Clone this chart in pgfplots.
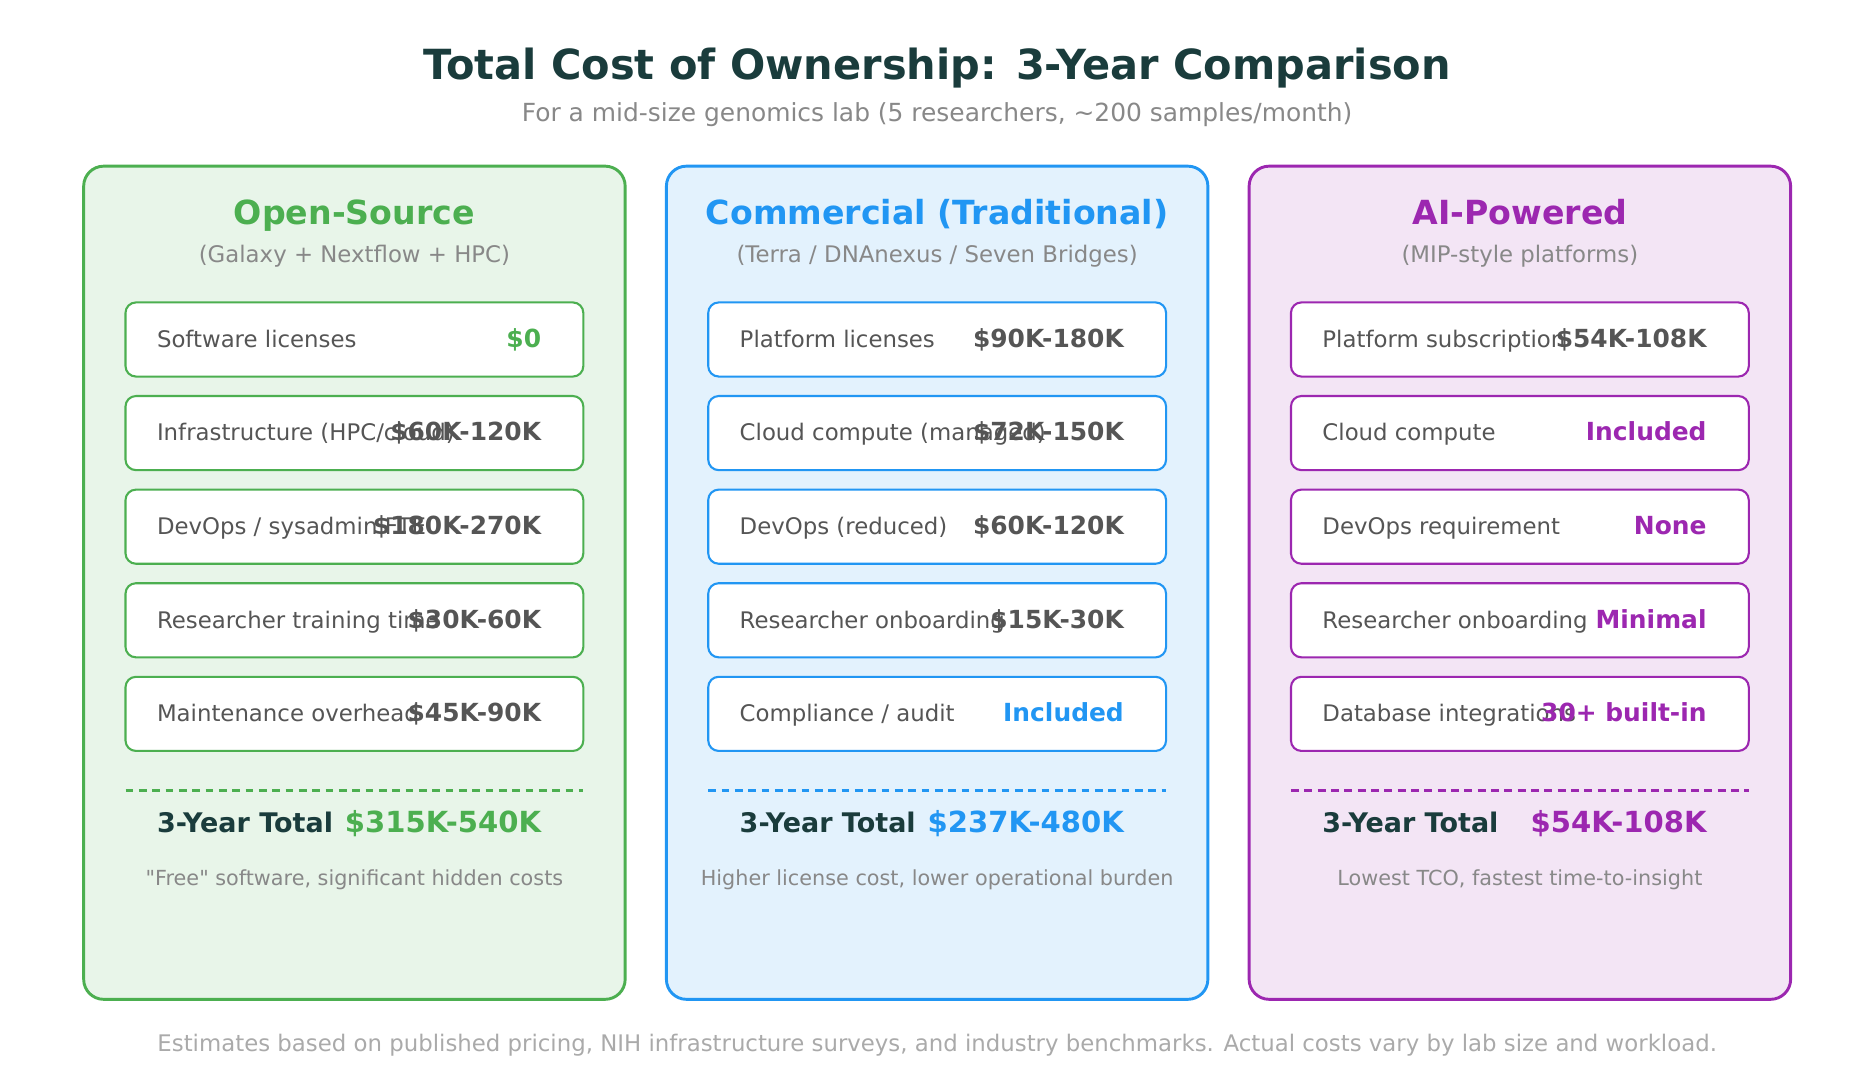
\documentclass[border=0pt]{standalone}
\usepackage{fontspec}
\setmainfont{DejaVu Sans}[Ligatures=TeXOff]
\usepackage{pgfplots}
\pgfplotsset{compat=1.18}

\definecolor{osgreen}{HTML}{4CAF50}
\definecolor{osfill}{HTML}{E8F5E9}
\definecolor{cmblue}{HTML}{2196F3}
\definecolor{cmfill}{HTML}{E3F2FD}
\definecolor{aipurple}{HTML}{9C27B0}
\definecolor{aifill}{HTML}{F3E5F5}
\definecolor{titlecol}{HTML}{1A3C3C}
\definecolor{labelgray}{HTML}{555555}
\definecolor{valgray}{HTML}{555555}
\definecolor{subgray}{HTML}{888888}
\definecolor{footgray}{HTML}{AAAAAA}

\newcommand\fs[1]{\fontsize{#1}{#1}\selectfont}

% card frame: #1 left x, #2 colour, #3 fill, #4 title, #5 subtitle
\newcommand\card[5]{%
  \draw[#2, fill=#3, line width=1.4bp, rounded corners=9.6bp]
    (axis cs:#1,139) rectangle (axis cs:#1+453,836);
  \node[anchor=base, text=#2, font=\fs{16}\bfseries] at (axis cs:#1+226.5,187.5) {#4};
  \node[anchor=base, text=subgray, font=\fs{11}] at (axis cs:#1+226.5,219.5) {#5};
  \draw[#2, line width=1.3bp, dash pattern=on 3.8bp off 2.6bp]
    (axis cs:#1+35,661.5) -- (axis cs:#1+418,661.5);
}
% cost row: #1 left x, #2 row, #3 colour, #4 label, #5 value, #6 value colour
\newcommand\costrow[6]{%
  \draw[#3, fill=white, line width=1bp, rounded corners=5bp]
    (axis cs:#1+35,253+78.3*#2) rectangle (axis cs:#1+418,315+78.3*#2);
  \node[anchor=base west, text=labelgray, font=\fs{11}] at (axis cs:#1+61,290.5+78.3*#2) {#4};
  \node[anchor=base east, text=#6, font=\fs{12}\bfseries] at (axis cs:#1+383,290.5+78.3*#2) {#5};
}
% total line: #1 left x, #2 colour, #3 total, #4 note
\newcommand\total[4]{%
  \node[anchor=base west, text=titlecol, font=\fs{13}\bfseries] at (axis cs:#1+61,696.5) {3-Year Total};
  \node[anchor=base east, text=#2, font=\fs{14}\bfseries] at (axis cs:#1+383,696.5) {#3};
  \node[anchor=base, text=subgray, font=\fs{10}] at (axis cs:#1+226.5,740.5) {#4};
}

\begin{document}
\begin{tikzpicture}
\tikzset{every node/.style={inner sep=0pt}}
\begin{axis}[
  width=900bp, height=519.84bp, scale only axis,
  xmin=0, xmax=1568.6, ymin=0, ymax=906, y dir=reverse,
  hide axis, clip=false]

\path (axis cs:0,0) rectangle (axis cs:1568.6,906);

\node[anchor=base, text=titlecol, font=\fs{20}\bfseries] at (axis cs:784,66.5)
  {Total Cost of Ownership: 3-Year Comparison};
\node[anchor=base, text=subgray, font=\fs{12}] at (axis cs:784,102)
  {For a mid-size genomics lab (5 researchers, \textasciitilde200 samples/month)};

% Open-Source
\card{70}{osgreen}{osfill}{Open-Source}{(Galaxy + Nextflow + HPC)}
\costrow{70}{0}{osgreen}{Software licenses}{\$0}{osgreen}
\costrow{70}{1}{osgreen}{Infrastructure (HPC/cloud)}{\$60K-120K}{valgray}
\costrow{70}{2}{osgreen}{DevOps / sysadmin FTE}{\$180K-270K}{valgray}
\costrow{70}{3}{osgreen}{Researcher training time}{\$30K-60K}{valgray}
\costrow{70}{4}{osgreen}{Maintenance overhead}{\$45K-90K}{valgray}
\total{70}{osgreen}{\$315K-540K}{"Free" software, significant hidden costs}

% Commercial
\card{557.5}{cmblue}{cmfill}{Commercial (Traditional)}{(Terra / DNAnexus / Seven Bridges)}
\costrow{557.5}{0}{cmblue}{Platform licenses}{\$90K-180K}{valgray}
\costrow{557.5}{1}{cmblue}{Cloud compute (managed)}{\$72K-150K}{valgray}
\costrow{557.5}{2}{cmblue}{DevOps (reduced)}{\$60K-120K}{valgray}
\costrow{557.5}{3}{cmblue}{Researcher onboarding}{\$15K-30K}{valgray}
\costrow{557.5}{4}{cmblue}{Compliance / audit}{Included}{cmblue}
\total{557.5}{cmblue}{\$237K-480K}{Higher license cost, lower operational burden}

% AI-Powered
\card{1045}{aipurple}{aifill}{AI-Powered}{(MIP-style platforms)}
\costrow{1045}{0}{aipurple}{Platform subscription}{\$54K-108K}{valgray}
\costrow{1045}{1}{aipurple}{Cloud compute}{Included}{aipurple}
\costrow{1045}{2}{aipurple}{DevOps requirement}{None}{aipurple}
\costrow{1045}{3}{aipurple}{Researcher onboarding}{Minimal}{aipurple}
\costrow{1045}{4}{aipurple}{Database integrations}{30+ built-in}{aipurple}
\total{1045}{aipurple}{\$54K-108K}{Lowest TCO, fastest time-to-insight}

\node[anchor=base, text=footgray, font=\fs{11}] at (axis cs:784,879.5)
  {Estimates based on published pricing, NIH infrastructure surveys, and industry benchmarks. Actual costs vary by lab size and workload.};

\end{axis}
\end{tikzpicture}
\end{document}
